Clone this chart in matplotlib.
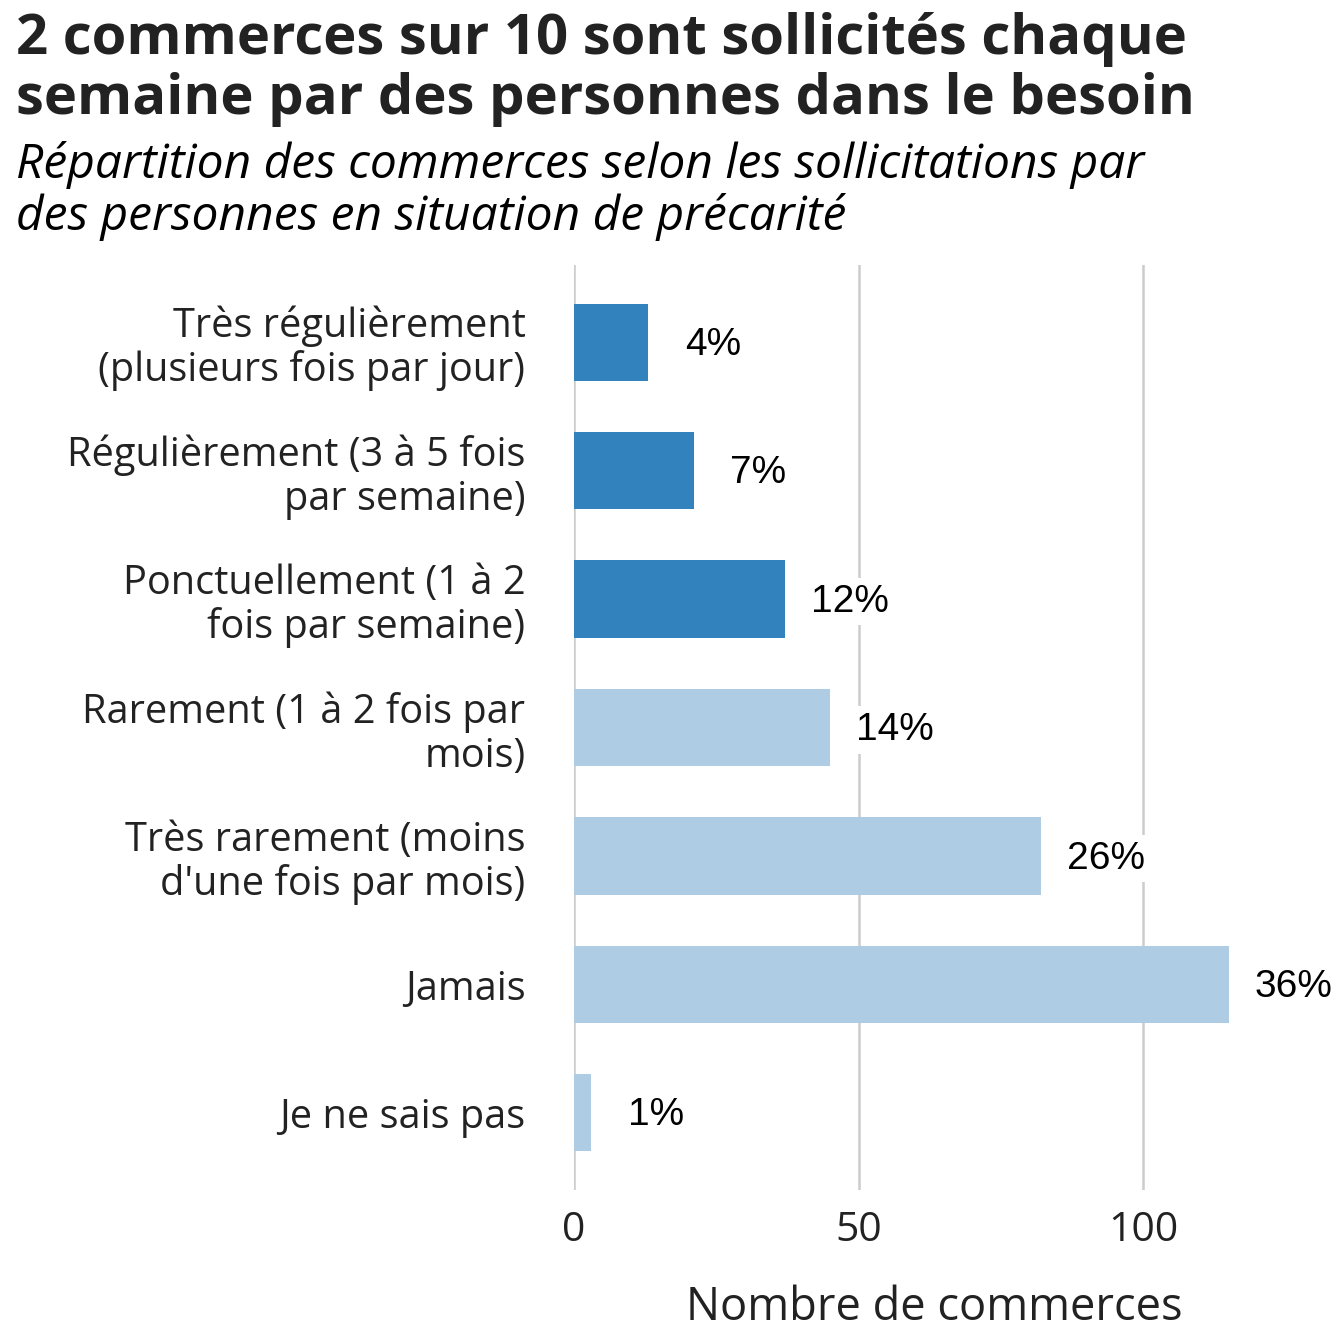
import matplotlib
matplotlib.use("Agg")
import matplotlib.pyplot as plt

categories = [
    "Très régulièrement\n(plusieurs fois par jour)",
    "Régulièrement (3 à 5 fois\npar semaine)",
    "Ponctuellement (1 à 2\nfois par semaine)",
    "Rarement (1 à 2 fois par\nmois)",
    "Très rarement (moins\nd'une fois par mois)",
    "Jamais",
    "Je ne sais pas",
]
counts = [13, 21, 37, 45, 82, 115, 3]
pct_labels = ["4%", "7%", "12%", "14%", "26%", "36%", "1%"]
groups = ["weekly", "weekly", "weekly", "other", "other", "other", "other"]
xticks = [0, 50, 100]

title = "2 commerces sur 10 sont sollicités chaque\nsemaine par des personnes dans le besoin"
subtitle = "Répartition des commerces selon les sollicitations par\ndes personnes en situation de précarité"
xlabel = "Nombre de commerces"

colors = {"weekly": "#3182bd", "other": "#aecde4"}
txt = "#222222"

W = H = 1344
fig = plt.figure(figsize=(W / 100, H / 100), dpi=100)
fig.patch.set_facecolor("white")

left, right, top, bottom = 574, 1182, 265, 1190
ax = fig.add_axes([left / W, 1 - bottom / H, (right - left) / W, (bottom - top) / H])

ypos = list(range(len(categories)))
bars = ax.barh(ypos, counts, height=0.6, color=[colors[g] for g in groups], zorder=2)
for b in bars:
    b.set_clip_on(False)

ax.set_xlim(0, 106.8)
ax.set_ylim(len(categories) - 0.4, -0.6)

for y, c, lab in zip(ypos, counts, pct_labels):
    ax.text(c + 11.4, y + 0.02, lab, ha="center", va="center", fontsize=28,
            family="Liberation Sans", color="black", zorder=3, clip_on=False,
            bbox=dict(boxstyle="square,pad=0.15", fc="white", ec="none"))

ax.set_xticks(xticks)
ax.set_xticklabels([str(t) for t in xticks], fontsize=29.5, family="Open Sans", color=txt)
ax.set_yticks(ypos)
ax.set_yticklabels(categories, fontsize=28.6, family="Open Sans", color=txt,
                   linespacing=1.1)
ax.tick_params(axis="both", length=0)
ax.tick_params(axis="x", pad=15)
ax.tick_params(axis="y", pad=35)

ax.grid(axis="x", color="#cccccc", linewidth=1.8, zorder=0)
ax.grid(axis="y", visible=False)
for s in ax.spines.values():
    s.set_visible(False)
ax.set_facecolor("white")

ax.set_xlabel(xlabel, fontsize=32.6, family="Open Sans", color=txt, loc="right", labelpad=24)

fig.text(16 / W, 1 - 12 / H, title, ha="left", va="top", fontsize=40.5,
         family="Open Sans", weight="bold", color=txt, linespacing=1.12)
fig.text(16 / W, 1 - 141 / H, subtitle, ha="left", va="top", fontsize=34.5,
         family="Open Sans", style="italic", color="black", linespacing=1.1)

fig.savefig("out.png", dpi=100)
